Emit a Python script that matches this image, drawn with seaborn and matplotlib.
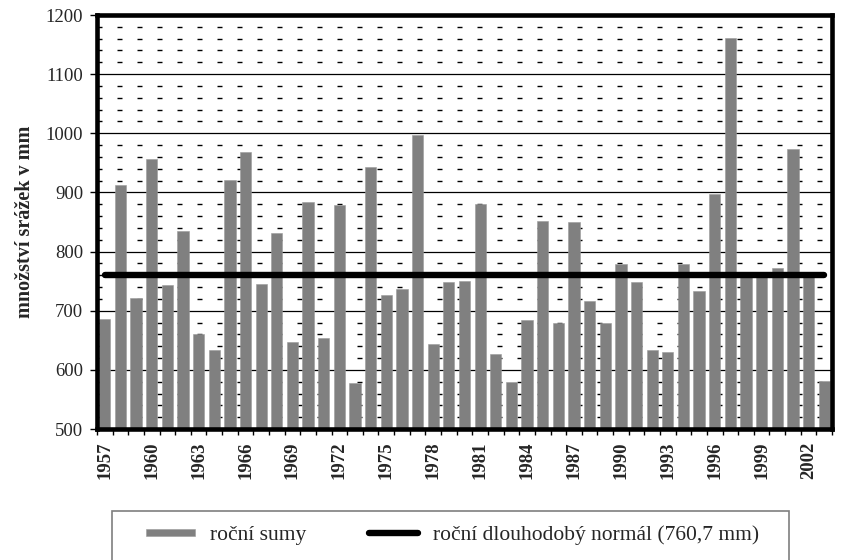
import matplotlib
matplotlib.use("Agg")
import matplotlib.pyplot as plt
from matplotlib.patches import Patch, Rectangle
from matplotlib.lines import Line2D
from matplotlib.legend_handler import HandlerPatch
import seaborn as sns
import pandas as pd

# Roční úhrny srážek 1957–2003
years = list(range(1957, 2004))
precip = [686, 913, 721, 956, 744, 835, 660, 634, 921, 968,
          745, 831, 647, 884, 654, 878, 578, 943, 726, 736,
          997, 643, 749, 750, 880, 627, 579, 684, 851, 679,
          850, 716, 680, 779, 749, 633, 630, 779, 734, 897,
          1161, 758, 762, 772, 974, 758, 582]
normal = 760.7
tick_years = list(range(1957, 2004, 3))

sns.set_theme(style="white")
plt.rcParams["font.family"] = ["Liberation Serif", "DejaVu Serif"]

df = pd.DataFrame({"rok": [str(y) for y in years], "srazky": precip})

fig = plt.figure(figsize=(8.45, 5.6), dpi=100)
ax = fig.add_axes([97 / 845, 1 - 429 / 560, (832 - 97) / 845, (429 - 15) / 560])

# horizontal grid: solid every 100 mm, dashed every 20 mm
for v in range(520, 1200, 20):
    if v % 100 == 0:
        ax.axhline(v, color="black", lw=0.9, zorder=0)
    else:
        ax.axhline(v, color="black", lw=1.0, ls=(0, (3.6, 10.8)), zorder=0)

sns.barplot(data=df, x="rok", y="srazky", color="#808080", saturation=1,
            width=0.72, ax=ax, zorder=2, edgecolor="#9a9a9a", linewidth=0.4)

# long-term normal
ax.plot([0, len(years) - 1], [normal, normal], color="black", lw=4.6,
        solid_capstyle="round", zorder=3)

ax.set_xlim(-0.5, len(years) - 0.5)
ax.set_ylim(500, 1200)
ax.set_yticks(range(500, 1201, 100))
ax.tick_params(axis="y", which="major", direction="out", length=5, width=1,
               color="black", labelsize=13.5, pad=5, left=True)

tick_pos = [years.index(y) for y in tick_years]
ax.set_xticks(tick_pos)
ax.set_xticklabels([str(y) for y in tick_years], rotation=90,
                   fontweight="bold", fontsize=13.5)
ax.set_xticks([i - 0.5 for i in range(len(years) + 1)], minor=True)
ax.tick_params(axis="x", which="major", length=0, pad=9)
ax.tick_params(axis="x", which="minor", direction="out", length=4, width=1,
               color="black", bottom=True)

ax.set_xlabel("")
ax.set_ylabel("množství srážek v mm", fontweight="bold", fontsize=14.5)
ax.yaxis.set_label_coords(-0.084, 0.5)

for s in ax.spines.values():
    s.set_visible(True)
    s.set_color("black")
    s.set_linewidth(3.3)
ax.set_facecolor("white")


def small_rect(legend, orig_handle, xdescent, ydescent, width, height, fontsize):
    h = height * 0.5
    return Rectangle((-xdescent, -ydescent + (height - h) / 2), width, h)


handles = [Patch(facecolor="#808080", edgecolor="#9a9a9a", lw=0.4),
           Line2D([0], [0], color="black", lw=4.6, solid_capstyle="round")]
labels = ["roční sumy", "roční dlouhodobý normál (760,7 mm)"]
fig.legend(handles, labels, ncol=2, frameon=False, loc="center left",
           bbox_to_anchor=(146 / 845, 1 - 535 / 560), fontsize=15.5,
           handlelength=2.28, handletextpad=0.7, columnspacing=2.9,
           borderpad=0, borderaxespad=0,
           handler_map={Patch: HandlerPatch(patch_func=small_rect)})

fig.patches.append(Rectangle((112 / 845, -0.05), (789 - 112) / 845,
                             0.05 + 1 - 511 / 560, transform=fig.transFigure,
                             fill=False, edgecolor="#7f7f7f", lw=1.2))

fig.savefig("out.png", dpi=100)
